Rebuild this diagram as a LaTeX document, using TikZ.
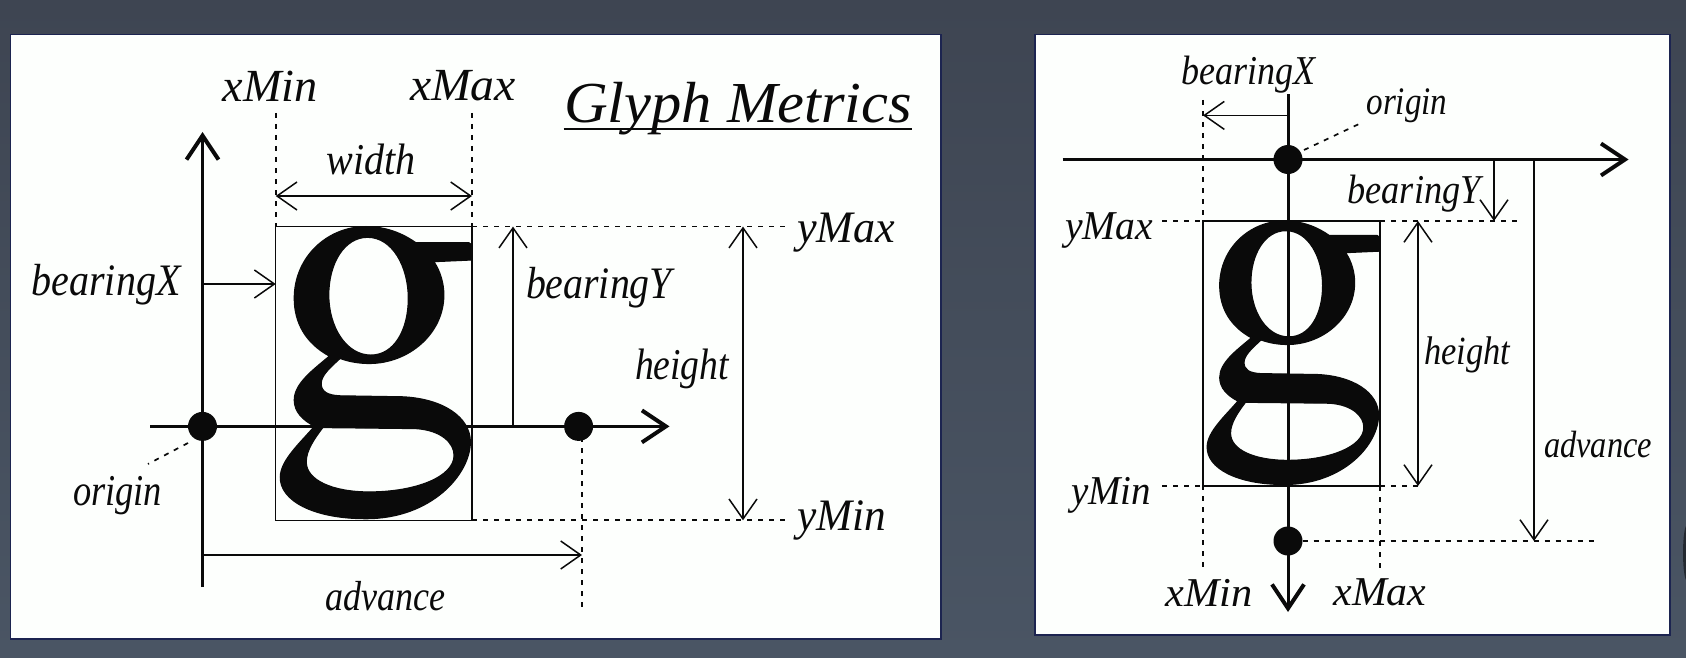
\documentclass[tikz,border=0pt]{standalone}
\usepackage{fontspec}
\usepackage{graphicx}
\setmainfont{Liberation Serif}
\usetikzlibrary{arrows.meta}
\definecolor{bgtop}{HTML}{3E4552}
\definecolor{bgbot}{HTML}{4A5564}
\definecolor{paper}{HTML}{FDFFFD}
\definecolor{edge}{HTML}{1C2450}
\definecolor{ink}{HTML}{0A0A0A}
\newcommand{\txt}[3]{\resizebox{#1pt}{\height}{\fontsize{#2}{#2}\selectfont\itshape #3}}
\newcommand{\gshape}{%
  \filldraw[ink,line width=1.2pt,even odd rule]
  (290,20) .. controls (350,20) and (400,40) .. (440,68) -- (600,68) -- (608,74) -- (608,120) -- (495,125)
  .. controls (515,155) and (525,190) .. (525,225)
  .. controls (525,340) and (420,430) .. (300,430)
  .. controls (270,430) and (240,425) .. (212,415)
  .. controls (185,440) and (155,465) .. (155,490)
  .. controls (155,515) and (175,525) .. (210,527) -- (400,530)
  .. controls (520,535) and (605,590) .. (605,665)
  .. controls (605,760) and (490,895) .. (290,895)
  .. controls (130,895) and (30,840) .. (32,770)
  .. controls (32,720) and (95,665) .. (135,618)
  .. controls (100,600) and (74,575) .. (74,540)
  .. controls (74,490) and (130,450) .. (180,408)
  .. controls (110,370) and (74,310) .. (74,235)
  .. controls (74,110) and (175,20) .. (290,20) -- cycle
  (295,52) .. controls (370,52) and (418,140) .. (418,235)
  .. controls (418,330) and (375,405) .. (305,405)
  .. controls (230,405) and (178,320) .. (178,225)
  .. controls (178,130) and (225,52) .. (295,52) -- cycle
  (160,622) -- (440,625) .. controls (520,630) and (556,670) .. (556,705)
  .. controls (556,770) and (440,815) .. (300,815)
  .. controls (190,815) and (110,780) .. (110,725)
  .. controls (110,690) and (135,655) .. (160,622) -- cycle;}
\tikzset{
  panel/.style={draw=edge,line width=1.2pt,fill=paper},
  lab/.style={inner sep=0pt,outer sep=0pt,text=ink,anchor=center},
  thinline/.style={draw=ink,line width=1.5pt},
  dimline/.style={thinline,-{Straight Barb[length=20pt,width=28pt,line width=1.5pt]}},
  dimb/.style={thinline,{Straight Barb[length=20pt,width=28pt,line width=1.5pt]}-{Straight Barb[length=20pt,width=28pt,line width=1.5pt]}},
  dashline/.style={draw=ink,line width=1.7pt,dash pattern=on 5pt off 6pt},
  axisline/.style={draw=ink,line width=3pt},
  axisa/.style={axisline,-{Straight Barb[length=24pt,width=32pt,line width=4pt]}},
  dot/.style={circle,fill=ink,inner sep=0pt,minimum size=29pt},
  gbox/.style={draw=ink,line width=1.5pt},
}
\begin{document}
\begin{tikzpicture}[x=1pt,y=-1pt]
\useasboundingbox (0,0) rectangle (1686,658);
\shade[top color=bgtop,bottom color=bgbot] (0,0) rectangle (1686,658);
\fill[black!70!bgbot,opacity=.7] (1687,553) ellipse (4 and 28);
\draw[panel] (10.5,34.5) rectangle (941,639);
\draw[panel] (1035,34.5) rectangle (1670,635);
% LEFT PANEL
\coordinate (lO) at (202.5,426.4);
\coordinate (lAxT) at (202.5,132);
\coordinate (lAxB) at (202.5,587);
\coordinate (lAxL) at (150,426.4);
\coordinate (lAxR) at (669.5,426.4);
\coordinate (lTL) at (275.7,226.6);
\coordinate (lBR) at (472,520.3);
\coordinate (lTR) at (472,226.6);
\coordinate (lBL) at (275.7,520.3);
\begin{scope}[shift={(269.73,219.92)},x=.3316pt,y=-.3338pt]
\gshape
\end{scope}
\draw[gbox] (lTL) rectangle (lBR);
\draw[axisa] (lAxB) -- (lAxT);
\draw[axisa] (lAxL) -- (lAxR);
\node[dot] (lDot) at (lO) {};
\node[dot] (lAdv) at (578.6,426.4) {};
\coordinate (lXa) at (275.7,113);
\coordinate (lXb) at (472,113);
\coordinate (lYa) at (788,226.6);
\coordinate (lYb) at (788,520.3);
\coordinate (lAdvB) at (582,608);
\coordinate (lAdvT) at (582,426.4);
\draw[dashline] (lXa) -- (lTL);
\draw[dashline] (lXb) -- (lTR);
\draw[dashline] (lTR) -- (lYa);
\draw[dashline] (lBR) -- (lYb);
\draw[dashline] (lAdvT) -- (lAdvB);
\coordinate (lWa) at (275.7,196);
\coordinate (lWb) at (472,196);
\draw[dimb] (lWa) -- (lWb);
\coordinate (lBYa) at (513,426.4);
\coordinate (lBYb) at (513,226.6);
\draw[dimline] (lBYa) -- (lBYb);
\coordinate (lHa) at (743,226.6);
\coordinate (lHb) at (743,520.3);
\draw[dimb] (lHa) -- (lHb);
\coordinate (lBXa) at (202.5,284);
\coordinate (lBXb) at (275.7,284);
\draw[dimline] (lBXa) -- (lBXb);
\coordinate (lAa) at (202.5,555);
\coordinate (lAb) at (582,555);
\draw[dimline] (lAa) -- (lAb);
\coordinate (lOa) at (188,443);
\coordinate (lOb) at (148,464);
\draw[dashline] (lOa) -- (lOb);
\node[lab] (t1) at (270,86) {\txt{95}{46}{xMin}};
\node[lab] (t2) at (463,86) {\txt{106}{46}{xMax}};
\node[lab] (t3) at (738,109) {\txt{348}{58}{Glyph Metrics}};
\coordinate (lUa) at (563.5,129);
\coordinate (lUb) at (912,129);
\draw[draw=ink,line width=2pt] (lUa) -- (lUb);
\node[lab] (t4) at (371,159.5) {\txt{89}{44}{width}};
\node[lab] (t5) at (846,233) {\txt{98}{45}{yMax}};
\node[lab] (t6) at (842,520) {\txt{89}{45}{yMin}};
\node[lab] (t7) at (106,285) {\txt{149}{45}{bearingX}};
\node[lab] (t8) at (599,288) {\txt{146}{45}{bearingY}};
\node[lab] (t9) at (682,369) {\txt{94}{44}{height}};
\node[lab] (t10) at (117.5,496) {\txt{89}{44}{origin}};
\node[lab] (t11) at (385,596) {\txt{120}{42}{advance}};
% RIGHT PANEL
\coordinate (rO) at (1288,159.5);
\coordinate (rAxT) at (1288,94.4);
\coordinate (rAxB) at (1288,612);
\coordinate (rAxL) at (1062.5,159.5);
\coordinate (rAxR) at (1628.6,159.5);
\coordinate (rTL) at (1203,221);
\coordinate (rBR) at (1380,486);
\coordinate (rTR) at (1380,221);
\coordinate (rBL) at (1203,486);
\begin{scope}[shift={(1197.62,214.98)},x=.299pt,y=-.3011pt]
\gshape
\end{scope}
\draw[gbox] (rTL) rectangle (rBR);
\draw[axisa] (rAxT) -- (rAxB);
\draw[axisa] (rAxL) -- (rAxR);
\node[dot] (rDot) at (rO) {};
\node[dot] (rAdv) at (1288,541) {};
\coordinate (rXa) at (1203,100);
\coordinate (rXb) at (1203,568.6);
\coordinate (rXc) at (1380,570.7);
\coordinate (rYa) at (1162,221);
\coordinate (rYb) at (1517.5,221);
\coordinate (rYc) at (1162,486);
\coordinate (rYd) at (1418,486);
\coordinate (rYe) at (1594,541);
\draw[dashline] (rXa) -- (rXb);
\draw[dashline] (rBR) -- (rXc);
\draw[dashline] (rYa) -- (rTL);
\draw[dashline] (rTR) -- (rYb);
\draw[dashline] (rYc) -- (rBL);
\draw[dashline] (rBR) -- (rYd);
\draw[dashline] (rAdv) -- (rYe);
\coordinate (rBXa) at (1288,115.4);
\coordinate (rBXb) at (1203,115.4);
\draw[dimline] (rBXa) -- (rBXb);
\coordinate (rBYa) at (1494,159.5);
\coordinate (rBYb) at (1494,221);
\draw[dimline] (rBYa) -- (rBYb);
\coordinate (rAa) at (1534,159.5);
\coordinate (rAb) at (1534,541);
\draw[dimline] (rAa) -- (rAb);
\coordinate (rHa) at (1418,221);
\coordinate (rHb) at (1418,486);
\draw[dimb] (rHa) -- (rHb);
\coordinate (rOa) at (1304,150);
\coordinate (rOb) at (1359,124);
\draw[dashline] (rOa) -- (rOb);
\node[lab] (u1) at (1248,75) {\txt{134}{41}{bearingX}};
\node[lab] (u2) at (1407,106) {\txt{81}{39}{origin}};
\node[lab] (u3) at (1414,194) {\txt{133}{41}{bearingY}};
\node[lab] (u4) at (1109,231) {\txt{88}{41}{yMax}};
\node[lab] (u5) at (1111,495) {\txt{80}{41}{yMin}};
\node[lab] (u6) at (1467,354.5) {\txt{86}{40}{height}};
\node[lab] (u7) at (1598,445) {\txt{108}{38}{advance}};
\node[lab] (u8) at (1209,592.5) {\txt{87}{41}{xMin}};
\node[lab] (u9) at (1380,592.5) {\txt{93}{41}{xMax}};
\end{tikzpicture}
\end{document}
